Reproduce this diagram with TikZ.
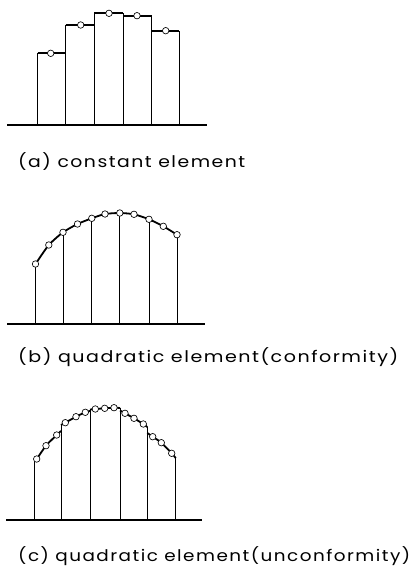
\documentclass[tikz,border=0pt]{standalone}
\usepackage{fontspec}
\setmainfont{Poppins}
\newfontfamily\capfont[LetterSpace=8]{Poppins}
\usepackage{graphicx}
\tikzset{
  basel/.style={line width=1.8pt},
  vertl/.style={line width=0.85pt},
  topl/.style={line width=1.8pt, line join=round},
  dotc/.style={circle, draw, line width=0.65pt, fill=white, inner sep=0pt, minimum size=6.5pt},
  captext/.style={anchor=base west, inner sep=0pt, font=\fontsize{16}{18}\selectfont\capfont},
}
\begin{document}
\begin{tikzpicture}[x=1pt,y=-1pt]
\useasboundingbox (0,0) rectangle (414,567);
% ---------------- (a) constant element
\coordinate (abl) at (7,125); \coordinate (abr) at (207,125);
\draw[basel] (abl) -- (abr);
\foreach \x/\y [count=\i] in {37.7/53.3, 65.7/25, 94.3/13.3, 123.3/15.7, 151.7/30.7, 179/30.7}{
  \coordinate (ae\i) at (\x,\y);
}
\draw[vertl] (ae1 |- abl) -- (37.7,53.3);
\draw[vertl] (ae2 |- abl) -- (65.7,25);
\draw[vertl] (ae3 |- abl) -- (94.3,13.3);
\draw[vertl] (ae4 |- abl) -- (123.3,13.3);
\draw[vertl] (ae5 |- abl) -- (151.7,15.7);
\draw[vertl] (ae6 |- abl) -- (179,30.7);
\draw[topl] (37.7,53.3) -- (65.7,53.3);
\draw[topl] (65.7,25) -- (94.3,25);
\draw[topl] (94.3,13.3) -- (123.3,13.3);
\draw[topl] (123.3,15.7) -- (151.7,15.7);
\draw[topl] (151.7,30.7) -- (179,30.7);
\node[dotc] (a1) at (50.7,53.3) {};
\node[dotc] (a2) at (80.7,25) {};
\node[dotc] (a3) at (109,13.3) {};
\node[dotc] (a4) at (137,15.7) {};
\node[dotc] (a5) at (165.7,30.7) {};
\node[captext] (capa) at (18,167.5) {\resizebox{227pt}{\height}{(a) constant element}};
% ---------------- (b) quadratic element (conformity)
\coordinate (bbl) at (7,324); \coordinate (bbr) at (205,324);
\draw[basel] (bbl) -- (bbr);
\draw[topl] plot[smooth, tension=0.4] coordinates {(35.5,264) (48.8,245) (63,232.3) (77.5,224) (91.8,218.3) (105,214) (119.8,213) (134,214.3) (149,219.3) (163.3,226.3) (177,234.7)};
\foreach \x/\y [count=\i from 0] in {35.5/264, 48.8/245, 63/232.3, 77.5/224, 91.8/218.3, 105/214, 119.8/213, 134/214.3, 149/219.3, 163.3/226.3, 177/234.7}{
  \coordinate (bp\i) at (\x,\y);
}
\foreach \i in {0,2,4,6,8,10}{
  \draw[vertl] (bp\i |- bbl) -- (bp\i);
}
\foreach \i in {0,...,10}{
  \node[dotc] (b\i) at (bp\i) {};
}
\node[captext] (capb) at (18,362) {\resizebox{380pt}{\height}{(b) quadratic element(conformity)}};
% ---------------- (c) quadratic element (unconformity)
\coordinate (cbl) at (6,520); \coordinate (cbr) at (202,520);
\draw[basel] (cbl) -- (cbr);
\draw[vertl] (34.3,520) -- (34.3,460);
\draw[vertl] (61,520) -- (61,425);
\draw[vertl] (90,520) -- (90,409.5);
\draw[vertl] (120,520) -- (120,408);
\draw[vertl] (147.3,520) -- (147.3,427);
\draw[vertl] (175.7,520) -- (175.7,458);
\draw[topl] plot[smooth, tension=0.5] coordinates {(34.3,460.5) (36.7,459) (46,445.7) (56.7,435) (61,431)};
\draw[topl] plot[smooth, tension=0.5] coordinates {(61,425) (65.3,422.7) (76,416.7) (85.3,412.3) (90,411)};
\draw[topl] plot[smooth, tension=0.5] coordinates {(90,409.5) (95.3,409) (104.7,408.3) (114,407.7) (120,408)};
\draw[topl] plot[smooth, tension=0.5] coordinates {(120,410.5) (125,413.3) (134,418.3) (143.3,424) (147.3,427)};
\draw[topl] plot[smooth, tension=0.5] coordinates {(147.3,433) (152.7,436.7) (161.3,442.7) (171.7,453.3) (175.7,458)};
\foreach \x/\y [count=\i] in {36.7/459, 46/445.7, 56.7/435, 65.3/422.7, 76/416.7, 85.3/412.3, 95.3/409, 104.7/408.3, 114/407.7, 125/413.3, 134/418.3, 143.3/424, 152.7/436.7, 161.3/442.7, 171.7/453.3}{
  \node[dotc] (c\i) at (\x,\y) {};
}
\node[captext] (capc) at (18,561.5) {\resizebox{392pt}{\height}{(c) quadratic element(unconformity)}};
\end{tikzpicture}
\end{document}
